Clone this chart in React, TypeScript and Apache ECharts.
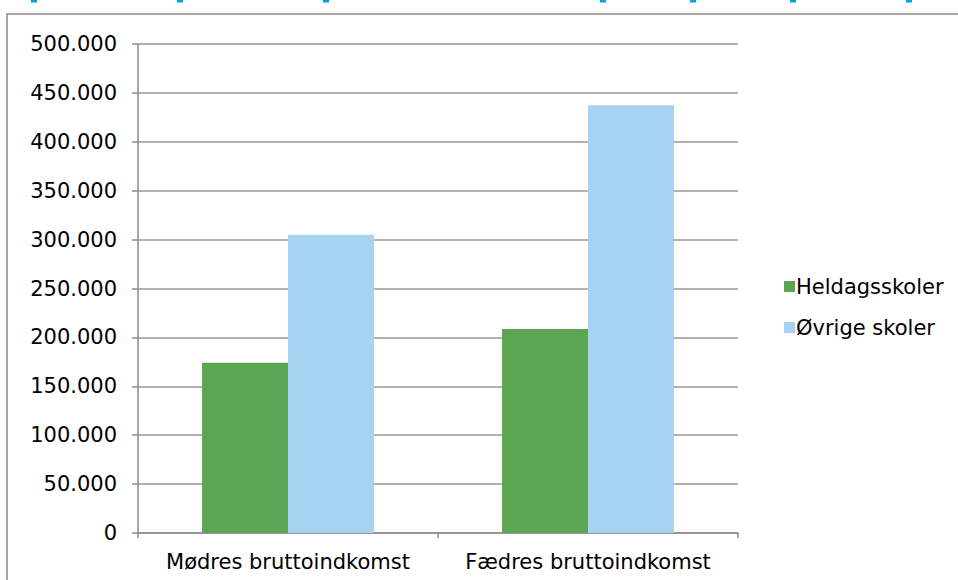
import React, { useEffect, useRef } from "react";
import * as echarts from "echarts";

const categories = ["Mødres bruttoindkomst", "Fædres bruttoindkomst"];
const seriesNames = ["Heldagsskoler", "Øvrige skoler"];
const heldagsskoler = [174000, 208500];
const oevrigeSkoler = [305000, 437500];
const yTicks = { min: 0, max: 500000, interval: 50000 };
// cut-off title descenders at the very top (x-centres)
const titleBits = [34, 180, 326, 603, 693, 793, 909];

const fmt = (v: number) =>
  v === 0 ? "0" : String(v).replace(/\B(?=(\d{3})+(?!\d))/g, ".");

export default function App() {
  const ref = useRef<HTMLDivElement>(null);
  useEffect(() => {
    document.body.style.margin = "0";
    const chart = echarts.init(ref.current!, null, { renderer: "svg" });
    const font = "DejaVu Sans, Verdana, sans-serif";
    chart.setOption({
      animation: false,
      backgroundColor: "#ffffff",
      textStyle: { fontFamily: font },
      grid: { left: 138, right: 220, top: 44, bottom: 47, containLabel: false },
      legend: {
        orient: "vertical",
        left: 779,
        top: 271,
        itemWidth: 11,
        itemHeight: 11,
        itemGap: 20,
        icon: "rect",
        data: seriesNames,
        textStyle: { fontFamily: font, fontSize: 21, color: "#000", lineHeight: 21, padding: [0, 0, 0, -4] },
      },
      xAxis: {
        type: "category",
        data: categories,
        axisLine: { show: true, lineStyle: { color: "#8c8c8c", width: 1.5 } },
        axisTick: { show: true, length: 5, alignWithLabel: false, lineStyle: { color: "#8c8c8c", width: 1.5 } },
        axisLabel: { interval: 0, hideOverlap: false, margin: 18, fontSize: 21, color: "#000", fontFamily: font },
        splitLine: { show: false },
      },
      yAxis: {
        type: "value",
        min: yTicks.min,
        max: yTicks.max,
        interval: yTicks.interval,
        axisLine: { show: true, lineStyle: { color: "#8c8c8c", width: 1.5 } },
        axisTick: { show: true, length: 6, lineStyle: { color: "#8c8c8c", width: 1.5 } },
        axisLabel: { margin: 21, fontSize: 21, color: "#000", fontFamily: font, formatter: fmt },
        splitLine: { show: true, lineStyle: { color: "#999999", width: 1.5 } },
      },
      series: [
        {
          name: seriesNames[0],
          type: "bar",
          data: heldagsskoler,
          barGap: "0%",
          barCategoryGap: "42.7%",
          itemStyle: { color: "#5ba553" },
        },
        {
          name: seriesNames[1],
          type: "bar",
          data: oevrigeSkoler,
          barGap: "0%",
          barCategoryGap: "42.7%",
          itemStyle: { color: "#a7d3f3" },
        },
      ],
      graphic: [
        {
          type: "rect",
          silent: true,
          shape: { x: 7, y: 14, width: 1000, height: 620 },
          style: { fill: "none", stroke: "#8c8c8c", lineWidth: 1.5 },
        },
        ...titleBits.map((x) => ({
          type: "rect",
          silent: true,
          shape: { x: x - 3, y: 0, width: 6, height: 2.5 },
          style: { fill: "#00a0e4" },
        })),
      ],
    });
    return () => chart.dispose();
  }, []);
  return <div ref={ref} style={{ width: 958, height: 580 }} />;
}
